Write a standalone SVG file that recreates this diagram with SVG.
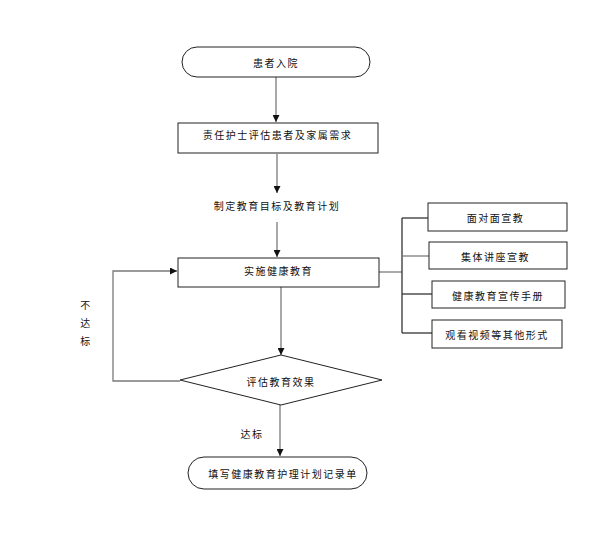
<svg xmlns="http://www.w3.org/2000/svg" width="594" height="540" viewBox="0 0 594 540">
<style>
.box{fill:#fff;stroke:#222;stroke-width:1}
.ln{fill:none;stroke:#7a7a7a;stroke-width:1.3}
.dk{fill:none;stroke:#333;stroke-width:1.3}
text{font-family:"Noto Sans CJK SC","Liberation Sans",sans-serif;font-size:10px;fill:#111;text-anchor:middle;dominant-baseline:central;letter-spacing:1.5px}
</style>
<defs>
<marker id="ah" viewBox="0 0 10 10" refX="10" refY="5" markerWidth="7" markerHeight="7" markerUnits="userSpaceOnUse" orient="auto">
<path d="M0,0 L10,5 L0,10 z" fill="#111"/>
</marker>
</defs>
<rect width="594" height="540" fill="#fff"/>
<g id="connectors">
<line class="ln" x1="276" y1="77" x2="276" y2="122" marker-end="url(#ah)"/>
<line class="ln" x1="277" y1="154" x2="277" y2="193" marker-end="url(#ah)"/>
<line class="ln" x1="277" y1="222" x2="277" y2="257" marker-end="url(#ah)"/>
<line class="ln" x1="281" y1="287" x2="281" y2="355" marker-end="url(#ah)"/>
<line class="ln" x1="280" y1="405" x2="280" y2="456" marker-end="url(#ah)"/>
<polyline class="ln" points="180,381 113,381 113,271 177,271" marker-end="url(#ah)"/>
<line class="ln" x1="379" y1="272" x2="402" y2="272"/>
<line class="dk" x1="402" y1="218" x2="402" y2="333"/>
<line class="dk" x1="402" y1="218" x2="428" y2="218"/>
<line class="ln" x1="402" y1="256" x2="429" y2="256"/>
<line class="dk" x1="402" y1="294" x2="432" y2="294"/>
<line class="dk" x1="402" y1="333" x2="432" y2="333"/>
</g>
<g id="start">
<rect class="box" x="182" y="47" width="188" height="30" rx="15" ry="15"/>
<text x="276" y="62">患者入院</text>
</g>
<g id="assess">
<rect class="box" x="178" y="123" width="200" height="30"/>
<text x="277.5" y="134">责任护士评估患者及家属需求</text>
</g>
<g id="plan">
<text x="277" y="205">制定教育目标及教育计划</text>
</g>
<g id="implement">
<rect class="box" x="178" y="258" width="201" height="29"/>
<text x="278.5" y="270">实施健康教育</text>
</g>
<g id="m1">
<rect class="box" x="428" y="203" width="139" height="28"/>
<text x="495.5" y="217">面对面宣教</text>
</g>
<g id="m2">
<rect class="box" x="429" y="242" width="138" height="27"/>
<text x="495.5" y="256">集体讲座宣教</text>
</g>
<g id="m3">
<rect class="box" x="432" y="281" width="133" height="27"/>
<text x="498" y="295">健康教育宣传手册</text>
</g>
<g id="m4">
<rect class="box" x="432" y="320" width="130" height="28"/>
<text x="497" y="334">观看视频等其他形式</text>
</g>
<g id="evaluate">
<polygon class="box" points="281,355 382,380 281,405 180,380" stroke="#555"/>
<text x="281" y="381">评估教育效果</text>
</g>
<g id="fail-label">
<text x="86" y="304">不</text>
<text x="86" y="322">达</text>
<text x="86" y="340">标</text>
</g>
<g id="pass-label">
<text x="252" y="433">达标</text>
</g>
<g id="end">
<rect class="box" x="188" y="457" width="179" height="32" rx="16" ry="16"/>
<text x="283" y="473">填写健康教育护理计划记录单</text>
</g>
</svg>
